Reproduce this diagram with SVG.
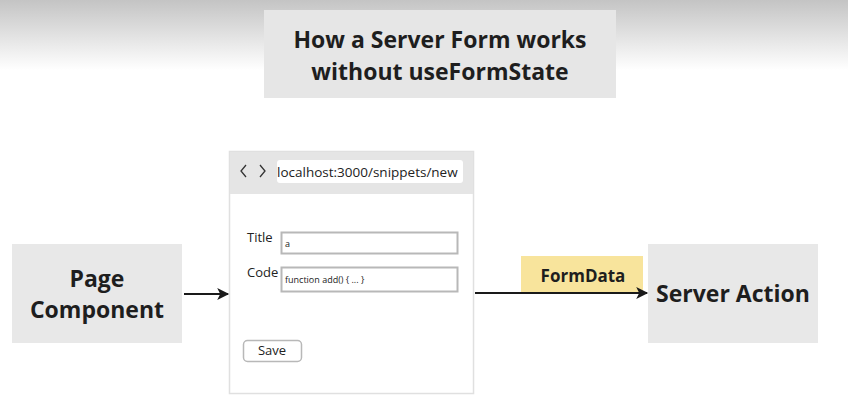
<svg xmlns="http://www.w3.org/2000/svg" width="848" height="420" viewBox="0 0 848 420">
<defs>
<linearGradient id="bg" x1="0" y1="0" x2="0" y2="1">
<stop offset="0" stop-color="#c4c4c4"/>
<stop offset="1" stop-color="#ffffff"/>
</linearGradient>
<marker id="ah" viewBox="0 0 10 10" refX="9" refY="5" markerWidth="6.5" markerHeight="6" orient="auto" markerUnits="strokeWidth">
<path d="M0,0 L10,5 L0,10 L2.5,5 Z" fill="#1a1a1a"/>
</marker>
</defs>
<style>
.box{fill:#e8e8e8}
.big{font-family:"Open Sans","Noto Sans",sans-serif;font-weight:700;font-size:23px;fill:#1e1e1e;text-anchor:middle}
.lbl{font-family:"Open Sans","Noto Sans",sans-serif;font-size:13px;fill:#222}
.in{fill:#fff;stroke:#b8b8b8;stroke-width:2}
.conn{stroke:#1a1a1a;stroke-width:2;fill:none}
</style>
<rect x="0" y="0" width="848" height="420" fill="#fff"/>
<rect x="0" y="0" width="848" height="70" fill="url(#bg)"/>
<g id="title">
<rect x="264" y="10" width="352" height="88" fill="#e6e6e6"/>
<text x="440" y="48" class="big">How a Server Form works</text>
<text x="440" y="80" class="big">without useFormState</text>
</g>
<g id="page-component">
<rect x="12" y="244" width="170" height="99" class="box"/>
<text x="97" y="287" class="big">Page</text>
<text x="97" y="318" class="big">Component</text>
</g>
<g id="browser">
<rect x="229.5" y="151.5" width="244" height="242" fill="#fff" stroke="#e0e0e0" stroke-width="1.5"/>
<rect x="230" y="152" width="243" height="42" fill="#e5e5e5"/>
<path d="M246,165 L241,171 L246,177 M260,165 L265,171 L260,177" fill="none" stroke="#333" stroke-width="1.3"/>
<rect x="277" y="160" width="186" height="23" rx="3" fill="#fff"/>
<text x="277" y="177" class="lbl" style="font-size:13.5px">localhost:3000/snippets/new</text>
<text x="247" y="242" class="lbl">Title</text>
<rect x="281.5" y="232.5" width="176" height="21" class="in"/>
<text x="285" y="247" class="lbl" style="font-size:9px">a</text>
<text x="247" y="277" class="lbl">Code</text>
<rect x="281.5" y="267.5" width="176" height="24" class="in"/>
<text x="285" y="283" class="lbl" style="font-size:9px">function add() { ... }</text>
<rect x="243.5" y="340.5" width="58" height="21" rx="4" fill="#fff" stroke="#b8b8b8" stroke-width="1.5"/>
<text x="272" y="355" class="lbl" text-anchor="middle">Save</text>
</g>
<g id="server-action">
<rect x="648" y="244" width="170" height="99" class="box"/>
<text x="733" y="302" class="big">Server Action</text>
</g>
<g id="connectors">
<line x1="184" y1="294" x2="228" y2="294" class="conn" marker-end="url(#ah)"/>
<rect x="521" y="256" width="122" height="36" fill="#f8e49c"/>
<text x="583" y="282" class="big" style="font-size:17px">FormData</text>
<line x1="475" y1="293" x2="647" y2="293" class="conn" marker-end="url(#ah)"/>
</g>
</svg>
